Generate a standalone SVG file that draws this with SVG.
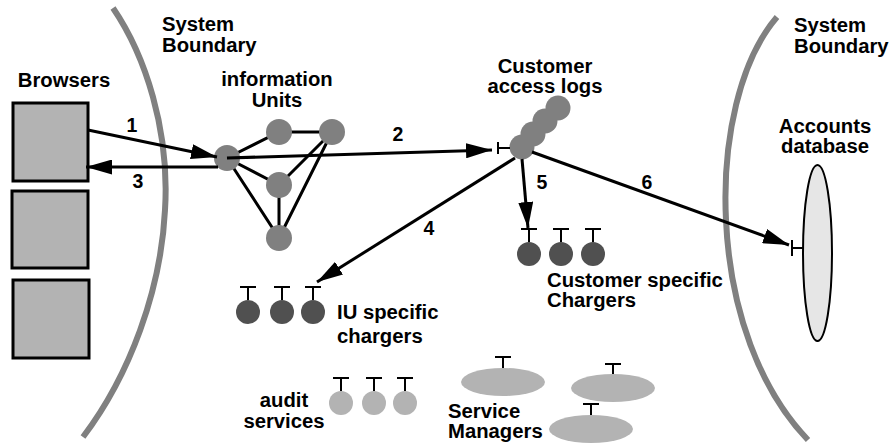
<svg xmlns="http://www.w3.org/2000/svg" width="895" height="446" viewBox="0 0 895 446">
  <style>
    text { font-family: "Liberation Sans", Arial, Helvetica, sans-serif; font-weight: bold; font-size: 20.3px; fill: #000; }
    .mid { text-anchor: middle; }
    .num { font-size: 19.5px; text-anchor: middle; }
    .boundary { fill: none; stroke: #808080; stroke-width: 6; stroke-linecap: butt; }
    .box { fill: #b3b3b3; stroke: #000; stroke-width: 3; }
    .unit { fill: #808080; }
    .charger { fill: #505050; }
    .audit { fill: #b3b3b3; }
    .mgr { fill: #b3b3b3; }
    .db { fill: #e6e6e6; stroke: #000; stroke-width: 2; }
    .port { fill: none; stroke: #000; stroke-width: 2; }
    .link { fill: none; stroke: #000; stroke-width: 3; }
    .arrow { fill: none; stroke: #000; stroke-width: 3; marker-end: url(#head); }
  </style>
  <defs>
    <marker id="head" viewBox="0 0 26 15" markerWidth="26" markerHeight="15" refX="26" refY="7.5" markerUnits="userSpaceOnUse" orient="auto">
      <path d="M0,0 L26,7.5 L0,15 z" fill="#000"/>
    </marker>
    <!-- small T-shaped interface port, stem pointing down from the bar -->
    <path id="tport" d="M-8,0 H8 M0,0 V13" class="port"/>
  </defs>

  <!-- system boundaries -->
  <g id="boundary-left">
    <path class="boundary" d="M113,8 C145,55 170,130 165,210 C161,290 130,375 83,437"/>
    <text x="162" y="31">System</text>
    <text x="162" y="52">Boundary</text>
  </g>
  <g id="boundary-right">
    <path class="boundary" d="M777,17 C740,60 722,140 726,220 C730,310 760,390 808,440"/>
    <text x="794" y="32">System</text>
    <text x="794" y="53">Boundary</text>
  </g>

  <!-- links inside the information-unit cluster -->
  <g id="iu-links">
    <path class="link" d="M227,158 L279,132 L332,132 M227,158 L279,185 L332,132 M227,158 L279,238 L332,132 M279,185 L279,238"/>
  </g>

  <g id="browsers">
    <text class="mid" x="64" y="87">Browsers</text>
    <rect class="box" x="13" y="103" width="75" height="78"/>
    <rect class="box" x="12" y="191" width="76" height="77"/>
    <rect class="box" x="13" y="280" width="76" height="78"/>
  </g>

  <g id="information-units">
    <text class="mid" x="277" y="86">information</text>
    <text class="mid" x="277" y="107">Units</text>
    <circle class="unit" cx="227" cy="158" r="13"/>
    <circle class="unit" cx="279" cy="132" r="13"/>
    <circle class="unit" cx="332" cy="132" r="13"/>
    <circle class="unit" cx="279" cy="185" r="13"/>
    <circle class="unit" cx="279" cy="238" r="13"/>
  </g>

  <g id="customer-access-logs">
    <text class="mid" x="545" y="73">Customer</text>
    <text class="mid" x="545" y="93">access logs</text>
    <circle class="unit" cx="558" cy="108" r="12.5"/>
    <circle class="unit" cx="545" cy="121" r="12.5"/>
    <circle class="unit" cx="533" cy="134" r="12.5"/>
    <circle class="unit" cx="522" cy="147" r="12.5"/>
    <path class="port" d="M498,142 V154 M498,148 H510"/>
  </g>

  <g id="customer-chargers">
    <use href="#tport" x="529" y="229"/>
    <use href="#tport" x="561" y="229"/>
    <use href="#tport" x="593" y="229"/>
    <circle class="charger" cx="529" cy="254" r="12"/>
    <circle class="charger" cx="561" cy="254" r="12"/>
    <circle class="charger" cx="593" cy="254" r="12"/>
    <text x="547" y="287">Customer specific</text>
    <text x="547" y="307">Chargers</text>
  </g>

  <g id="iu-chargers">
    <use href="#tport" x="248" y="287"/>
    <use href="#tport" x="282" y="287"/>
    <use href="#tport" x="313" y="287"/>
    <circle class="charger" cx="248" cy="312" r="12"/>
    <circle class="charger" cx="282" cy="312" r="12"/>
    <circle class="charger" cx="313" cy="312" r="12"/>
    <text x="337" y="319">IU specific</text>
    <text x="337" y="343">chargers</text>
  </g>

  <g id="audit-services">
    <use href="#tport" x="341" y="378"/>
    <use href="#tport" x="374" y="378"/>
    <use href="#tport" x="405" y="378"/>
    <circle class="audit" cx="341" cy="403" r="12"/>
    <circle class="audit" cx="374" cy="403" r="12"/>
    <circle class="audit" cx="405" cy="403" r="12"/>
    <text class="mid" x="284" y="407">audit</text>
    <text class="mid" x="284" y="428">services</text>
  </g>

  <g id="service-managers">
    <use href="#tport" x="503" y="357"/>
    <use href="#tport" x="613" y="364"/>
    <use href="#tport" x="591" y="404"/>
    <ellipse class="mgr" cx="503" cy="382" rx="42" ry="14"/>
    <ellipse class="mgr" cx="613" cy="388" rx="42" ry="14"/>
    <ellipse class="mgr" cx="591" cy="429" rx="42" ry="14"/>
    <text x="448" y="418">Service</text>
    <text x="448" y="438">Managers</text>
  </g>

  <g id="accounts-database">
    <text class="mid" x="825" y="133">Accounts</text>
    <text class="mid" x="825" y="153">database</text>
    <ellipse class="db" cx="817.5" cy="253" rx="14.5" ry="88"/>
    <path class="port" d="M792,240 V256 M792,248 H803"/>
  </g>

  <!-- numbered message flows -->
  <g id="connectors">
    <path class="arrow" d="M88,130 L217,157"/>
    <path class="arrow" d="M227,158 L492,150"/>
    <path class="arrow" d="M218,167 L86,167"/>
    <path class="arrow" d="M515,158 L317,282"/>
    <path class="arrow" d="M522,159 L528,228"/>
    <path class="arrow" d="M532,152 L789,245"/>
    <text class="num" x="132" y="132">1</text>
    <text class="num" x="398" y="141">2</text>
    <text class="num" x="138" y="188">3</text>
    <text class="num" x="429" y="235">4</text>
    <text class="num" x="542" y="189">5</text>
    <text class="num" x="647" y="189">6</text>
  </g>
</svg>
